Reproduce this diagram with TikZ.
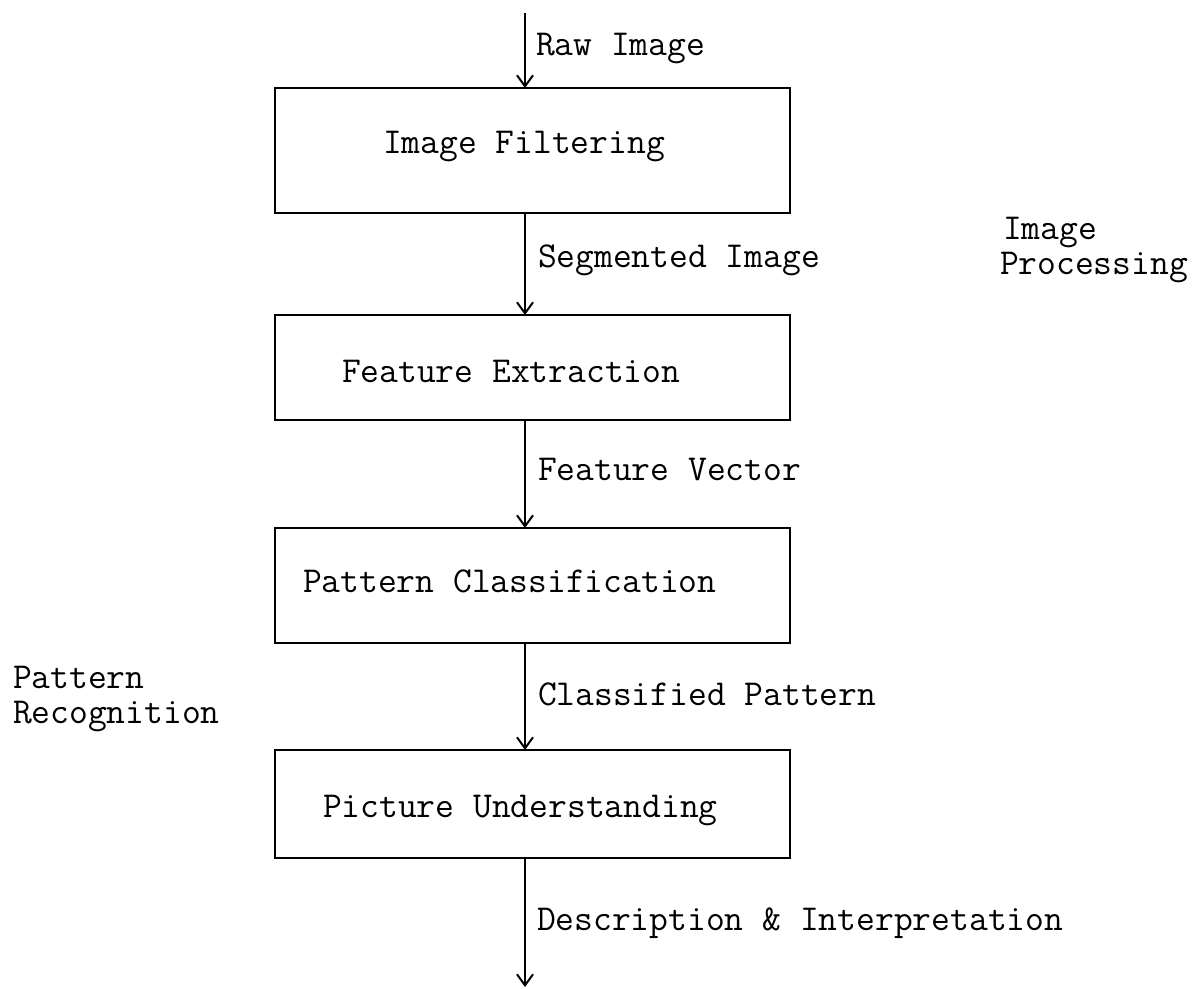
\documentclass[tikz,border=0pt]{standalone}
\usetikzlibrary{arrows.meta}
\begin{document}
\begin{tikzpicture}[x=1pt,y=-1pt,
  every node/.style={inner sep=0pt, outer sep=0pt},
  txt/.style={font=\ttfamily\fontsize{36.5}{40}\selectfont, anchor=base west},
  side/.style={align=left, anchor=base west, font=\ttfamily\fontsize{36.5}{34.5}\selectfont},
  blk/.style={draw, line width=2.6pt, rectangle, minimum width=515pt},
  flow/.style={line width=2.6pt, -{Straight Barb[length=11pt,width=16pt,line width=2pt]}}]
\useasboundingbox (0,0) rectangle (1202,988);
% boxes
\node[blk, minimum height=125pt] (b1) at (532.5,150.5) {};
\node[blk, minimum height=105pt] (b2) at (532.5,367.5) {};
\node[blk, minimum height=115pt] (b3) at (532.5,585.5) {};
\node[blk, minimum height=108pt] (b4) at (532.5,804) {};
% box texts
\node[txt] (t1) at (383,153) {Image Filtering};
\node[txt] (t2) at (342,382) {Feature Extraction};
\node[txt] (t3) at (303,592) {Pattern Classification};
\node[txt] (t4) at (323,817) {Picture Understanding};
% connectors
\coordinate (s) at (525,13);
\coordinate (e) at (525,987);
\draw[flow] (s) -- (s |- b1.north);
\draw[flow] (b1.south -| s) -- (b2.north -| s);
\draw[flow] (b2.south -| s) -- (b3.north -| s);
\draw[flow] (b3.south -| s) -- (b4.north -| s);
\draw[flow] (b4.south -| s) -- (e);
% connector labels
\node[txt] (l0) at (536,55) {Raw Image};
\node[txt] (l1) at (538,267) {Segmented Image};
\node[txt] (l2) at (538,480) {Feature Vector};
\node[txt] (l3) at (538,705) {Classified Pattern};
\node[txt] (l4) at (537,930) {Description \& Interpretation};
% side labels
\node[side] (ip) at (1000,274) {\hspace*{3pt}Image\\Processing};
\node[side] (pr) at (13,723) {Pattern\\Recognition};
\end{tikzpicture}
\end{document}
